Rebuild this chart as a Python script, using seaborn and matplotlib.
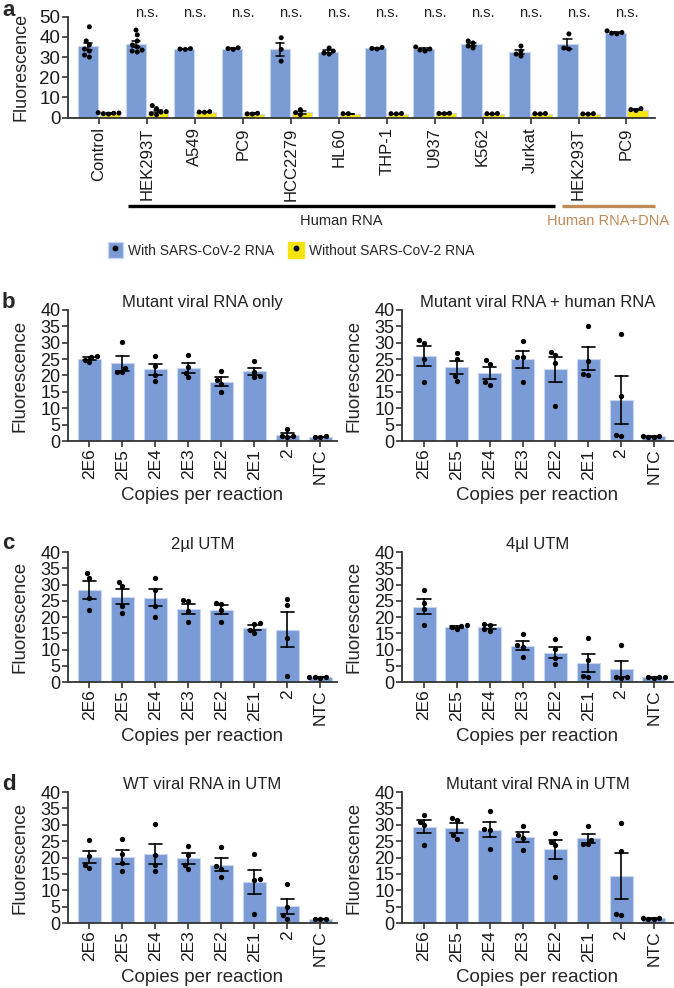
import numpy as np
import pandas as pd
import matplotlib
matplotlib.use("Agg")
import matplotlib.pyplot as plt
import matplotlib.transforms as mtransforms
from matplotlib.patches import Patch
from matplotlib.lines import Line2D
import seaborn as sns

sns.set_theme(style="ticks")
plt.rcParams["font.family"] = ["Liberation Sans", "DejaVu Sans"]

BLUE = "#7b9bd6"
YELLOW = "#f4e30c"
BROWN = "#bf8a56"
GRAY = "#8a8a8a"
SPINE = "#333333"

# ---------------- panel a data
a_keys = ["Control", "HEK293T", "A549", "PC9", "HCC2279", "HL60", "THP-1",
          "U937", "K562", "Jurkat", "HEK293T+DNA", "PC9+DNA"]
a_labels = ["Control", "HEK293T", "A549", "PC9", "HCC2279", "HL60", "THP-1",
            "U937", "K562", "Jurkat", "HEK293T", "PC9"]
a_label_colors = [GRAY] + ["black"] * 9 + [BROWN, BROWN]
a_with = [
    [45.0, 38.0, 36.0, 34.0, 33.0, 31.0, 30.0],
    [43.4, 41.0, 38.0, 36.0, 35.0, 33.5, 33.0, 32.5],
    [34.2, 34.0, 33.8],
    [34.6, 34.2, 33.8],
    [39.6, 33.8, 28.0],
    [34.5, 33.0, 32.0, 31.5],
    [34.8, 34.3, 34.0],
    [35.0, 34.0, 33.5, 33.0],
    [38.0, 37.0, 35.5, 34.5],
    [35.5, 33.0, 31.5, 30.5],
    [41.5, 34.5, 34.0],
    [43.0, 42.2, 41.5, 41.8],
]
a_without = [
    [2.5, 2.2, 2.0, 1.8, 2.3],
    [6.0, 4.5, 3.0, 2.0, 1.5, 2.8],
    [3.0, 2.8, 2.7],
    [2.2, 1.9, 1.8],
    [4.0, 2.5, 1.5],
    [2.0, 2.0],
    [2.1, 2.0, 1.9],
    [2.2, 2.0, 2.1],
    [2.1, 2.0, 1.9],
    [2.1, 2.0, 1.9],
    [2.0, 1.9, 1.8],
    [4.5, 4.0, 3.6],
]
a_series = ["With SARS-CoV-2 RNA", "Without SARS-CoV-2 RNA"]

# ---------------- panels b-d data
copies = ["2E6", "2E5", "2E4", "2E3", "2E2", "2E1", "2", "NTC"]

b_left = [[26.0, 25.5, 24.8, 24.0], [30.1, 22.4, 21.2, 21.0], [26.0, 23.0, 20.3, 18.4],
          [26.2, 22.5, 20.8, 19.4], [21.5, 18.5, 17.5, 15.0], [24.5, 21.2, 19.8, 19.4],
          [3.8, 1.4, 1.3, 1.4], [1.2, 1.3, 1.4]]
b_right = [[30.8, 30.0, 24.9, 18.0], [26.8, 24.9, 19.8, 18.3], [24.7, 23.4, 17.9, 17.2],
           [30.6, 25.7, 25.5, 18.0], [27.1, 26.2, 23.7, 10.7], [35.2, 24.3, 20.4, 20.3],
           [32.7, 13.7, 1.8, 1.5], [1.3, 1.4, 1.6, 1.3]]
c_left = [[33.4, 32.0, 25.7, 22.2], [30.8, 29.5, 23.5, 21.2], [32.0, 28.2, 23.5, 20.1],
          [25.1, 24.9, 21.7, 18.4], [23.9, 24.4, 22.1, 18.4], [18.1, 17.8, 16.0, 15.0],
          [25.4, 23.7, 13.5, 2.0], [1.6, 1.3, 1.4, 1.5]]
c_right = [[28.3, 24.4, 22.4, 17.4], [17.5, 17.2, 16.9, 16.2], [18.0, 17.6, 16.3, 15.8],
           [14.8, 11.4, 10.9, 7.8], [13.2, 10.1, 7.4, 5.4], [13.5, 6.8, 1.7, 1.5],
           [11.5, 1.5, 1.5, 1.2], [1.5, 1.4, 1.5, 1.3]]
d_left = [[25.2, 20.5, 17.8, 16.8], [25.6, 21.0, 18.4, 15.8], [30.1, 20.7, 17.8, 15.8],
          [23.6, 20.9, 17.8, 16.5], [23.2, 17.3, 16.6, 14.0], [21.0, 13.5, 13.0, 2.6],
          [11.8, 4.9, 2.3, 1.2], [1.2, 1.1, 1.1]]
d_right = [[33.1, 30.8, 29.8, 23.9], [32.1, 31.3, 26.8, 25.7], [34.1, 28.8, 28.3, 22.7],
           [29.6, 27.0, 26.0, 22.2], [27.5, 24.7, 23.7, 14.0], [29.7, 25.4, 24.2, 24.0],
           [30.6, 22.0, 2.8, 2.5], [1.3, 1.4, 1.5, 1.3]]

W, H = 674, 988
fig = plt.figure(figsize=(W / 100, H / 100), dpi=100)


def px_axes(l, t, r, b):
    return fig.add_axes([l / W, 1 - b / H, (r - l) / W, (b - t) / H])


def style_axes(ax):
    sns.despine(ax=ax)
    for s in ("left", "bottom"):
        ax.spines[s].set_color(SPINE)
        ax.spines[s].set_linewidth(1.3)
    ax.tick_params(axis="both", direction="out", length=4, width=1.2, color=SPINE,
                   pad=1.5, labelcolor="#1a1a1a")


# ---------------- panel a
rows = []
for key, vals in zip(a_keys, a_with):
    rows += [(key, a_series[0], v) for v in vals]
for key, vals in zip(a_keys, a_without):
    rows += [(key, a_series[1], v) for v in vals]
dfa = pd.DataFrame(rows, columns=["line", "cond", "value"])

ax = px_axes(68, 16.7, 655, 117.7)
sns.barplot(data=dfa, x="line", y="value", hue="cond", order=a_keys, hue_order=a_series,
            palette=[BLUE, YELLOW], saturation=1, errorbar="se", capsize=0.35,
            err_kws={"color": "black", "linewidth": 1.1}, width=0.92, gap=0.08,
            edgecolor="#c9d6f0", linewidth=0.8, legend=False, ax=ax)
sns.swarmplot(data=dfa, x="line", y="value", hue="cond", order=a_keys, hue_order=a_series,
              dodge=True, palette=["black", "black"], size=3.6, legend=False, ax=ax)
ax.set_ylim(0, 50)
ax.set_yticks(range(0, 51, 10))
ax.set_xlim(-0.645, 11.595)
ax.set_xticks(range(len(a_keys)))
ax.set_xticklabels(a_labels, rotation=90, fontsize=12)
for lab, col in zip(ax.get_xticklabels(), a_label_colors):
    lab.set_color(col)
ax.tick_params(axis="y", labelsize=13.5)
ax.set_xlabel("")
ax.set_ylabel("Fluorescence", fontsize=13)
ax.yaxis.set_label_coords(-0.065, 0.5)
style_axes(ax)
ax.tick_params(axis="x", pad=3)

# significance marks and sample group brackets
trans = mtransforms.blended_transform_factory(ax.transData, ax.transAxes)
for i in range(1, len(a_keys)):
    ax.text(i, 1.0, "n.s.", transform=trans, ha="center", va="baseline",
            fontsize=10.5, color="#222222")
ax.plot([0.6, 9.5], [-0.874, -0.874], transform=trans, color="black", lw=2.4,
        clip_on=False, solid_capstyle="butt")
ax.plot([9.65, 11.6], [-0.874, -0.874], transform=trans, color=BROWN, lw=2.4,
        clip_on=False, solid_capstyle="butt")
ax.text(5.05, -1.023, "Human RNA", transform=trans, ha="center", va="center",
        fontsize=10.5, color="#222222")
ax.text(10.62, -1.023, "Human RNA+DNA", transform=trans, ha="center", va="center",
        fontsize=10.5, color=BROWN)

handles = [
    (Patch(facecolor=BLUE, edgecolor="#c9d6f0"),
     Line2D([], [], marker="o", color="black", linestyle="", markersize=3.2)),
    (Patch(facecolor=YELLOW, edgecolor=YELLOW),
     Line2D([], [], marker="o", color="black", linestyle="", markersize=3.2)),
]
fig.legend(handles, a_series, loc="center", bbox_to_anchor=(291 / W, 1 - 250 / H),
           ncol=2, frameon=False, fontsize=10, handlelength=1.1, handleheight=1.3,
           handletextpad=0.4, columnspacing=1.0)


# ---------------- panels b-d
def dilution_panel(rect, values, title, xlim):
    ax = px_axes(*rect)
    rows = [(c, v) for c, vals in zip(copies, values) for v in vals]
    df = pd.DataFrame(rows, columns=["copies", "value"])
    sns.barplot(data=df, x="copies", y="value", order=copies, color=BLUE, saturation=1,
                errorbar="se", capsize=0.4, err_kws={"color": "black", "linewidth": 1.2},
                width=0.7, edgecolor="#c9d6f0", linewidth=0.8, ax=ax)
    sns.swarmplot(data=df, x="copies", y="value", order=copies, color="black",
                  size=3.8, ax=ax)
    ax.set_ylim(0, 40)
    ax.set_yticks(range(0, 41, 5))
    ax.set_xlim(*xlim)
    ax.set_xticks(range(len(copies)))
    ax.set_xticklabels(copies, rotation=90, fontsize=12.5)
    ax.tick_params(axis="y", labelsize=13)
    ax.set_ylabel("Fluorescence", fontsize=13.5)
    ax.yaxis.set_label_coords(-0.145, 0.5)
    ax.set_xlabel("Copies per reaction", fontsize=13.5)
    ax.xaxis.set_label_coords(0.5, -0.35)
    ax.set_title(title, fontsize=12, pad=1, color="#222222")
    style_axes(ax)
    return ax


left_lim = (-0.65, 7.5)
right_lim = (-0.67, 7.58)
dilution_panel((68, 310, 337, 441), b_left, "Mutant viral RNA only", left_lim)
dilution_panel((402, 310, 673, 441), b_right, "Mutant viral RNA + human RNA", right_lim)
dilution_panel((68, 552, 337, 682), c_left, "2µl UTM", left_lim)
dilution_panel((402, 552, 673, 682), c_right, "4µl UTM", right_lim)
dilution_panel((68, 792, 337, 923), d_left, "WT viral RNA in UTM", left_lim)
dilution_panel((402, 792, 673, 923), d_right, "Mutant viral RNA in UTM", right_lim)

for letter, y in [("a", 10), ("b", 303), ("c", 543), ("d", 785)]:
    fig.text(2 / W, 1 - y / H, letter, fontsize=16, fontweight="bold",
             ha="left", va="center")

fig.savefig("out.png", dpi=100)
